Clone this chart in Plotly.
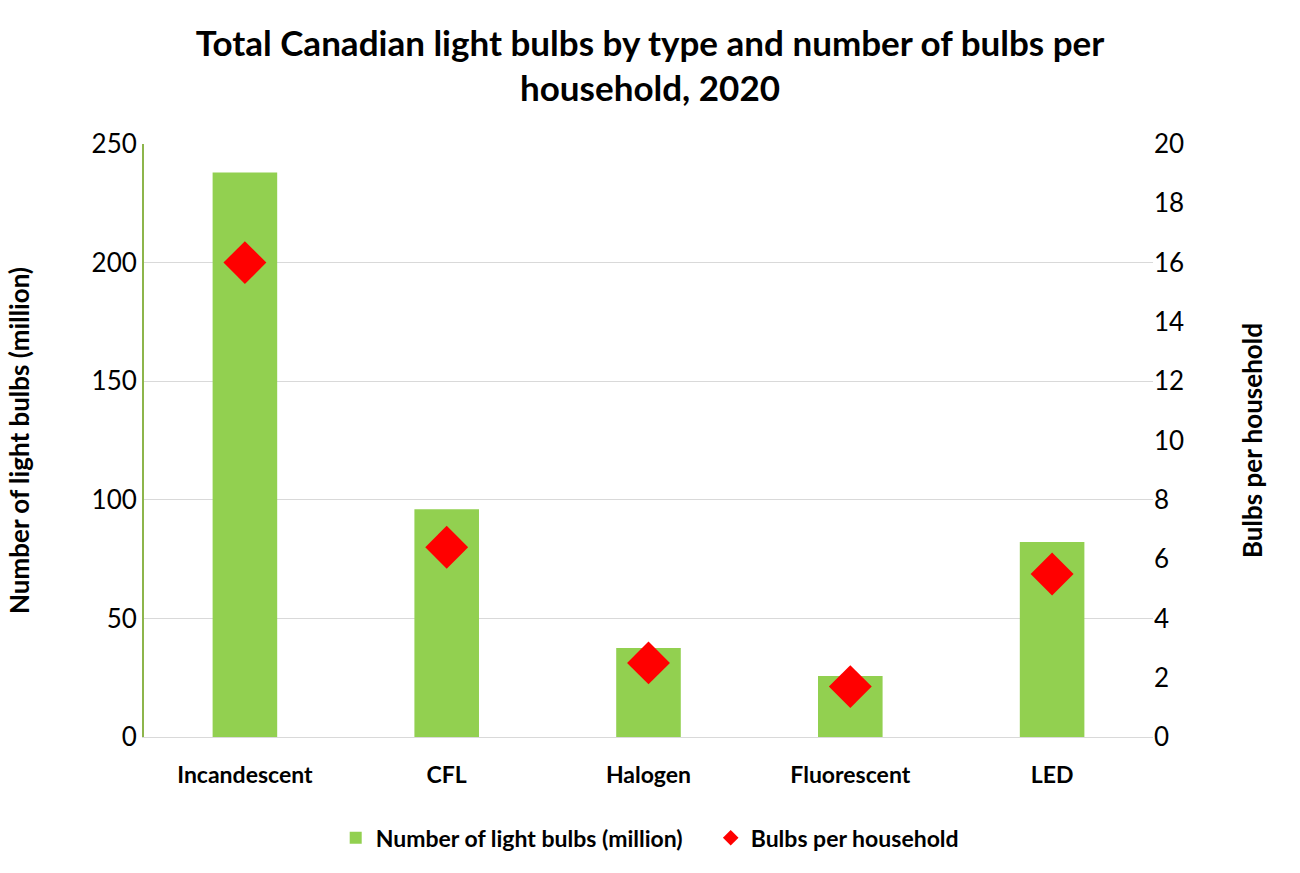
import plotly.graph_objects as go

categories = ["Incandescent", "CFL", "Halogen", "Fluorescent", "LED"]
bulbs_million = [238, 96, 37.5, 25.7, 82.2]
bulbs_per_household = [16.0, 6.4, 2.5, 1.7, 5.5]
left_ticks = [0, 50, 100, 150, 200, 250]
right_ticks = [0, 2, 4, 6, 8, 10, 12, 14, 16, 18, 20]

FONT = "Lato"

fig = go.Figure()
fig.add_trace(go.Bar(
    x=categories, y=bulbs_million, name="Number of light bulbs (million)",
    marker=dict(color="#92D050", line=dict(width=0)), width=0.32,
))
fig.add_trace(go.Scatter(
    x=categories, y=bulbs_per_household, name="Bulbs per household",
    mode="markers", yaxis="y2",
    marker=dict(symbol="diamond", color="#FF0000", size=33, line=dict(width=0)),
))

fig.update_layout(
    width=1300, height=873,
    paper_bgcolor="white", plot_bgcolor="white",
    margin=dict(l=144, r=147, t=144, b=136),
    font=dict(family=FONT, color="black"),
    title=dict(
        text="<b>Total Canadian light bulbs by type and number of bulbs per<br>household, 2020</b>",
        x=0.5, xanchor="center", y=0.936, yanchor="middle",
        font=dict(size=35, family=FONT),
    ),
    xaxis=dict(
        tickfont=dict(size=23, family=FONT, weight="bold"),
        showgrid=False, showline=True, linecolor="#D9D9D9", linewidth=1,
        ticks="", ticklen=0, ticklabelstandoff=17,
    ),
    yaxis=dict(
        range=[0, 250], tickvals=left_ticks,
        tickfont=dict(size=26, family=FONT),
        title=dict(text="<b>Number of light bulbs (million)</b>", font=dict(size=26, family=FONT), standoff=54),
        showgrid=True, gridcolor="#D9D9D9", gridwidth=1,
        showline=True, linecolor="#8DB54B", linewidth=2,
        zeroline=False, ticks="",
    ),
    yaxis2=dict(
        range=[0, 20], tickvals=right_ticks,
        overlaying="y", side="right",
        tickfont=dict(size=26, family=FONT),
        title=dict(text="<b>Bulbs per household</b>", font=dict(size=26, family=FONT), standoff=60),
        showgrid=False, showline=False, zeroline=False, ticks="",
    ),
    legend=dict(
        orientation="h", x=0.19, xanchor="left", y=-0.17, yanchor="middle",
        font=dict(size=23, family=FONT, weight="bold"),
        itemsizing="constant", entrywidth=330, entrywidthmode="pixels",
    ),
)

fig.write_html("out.html")
